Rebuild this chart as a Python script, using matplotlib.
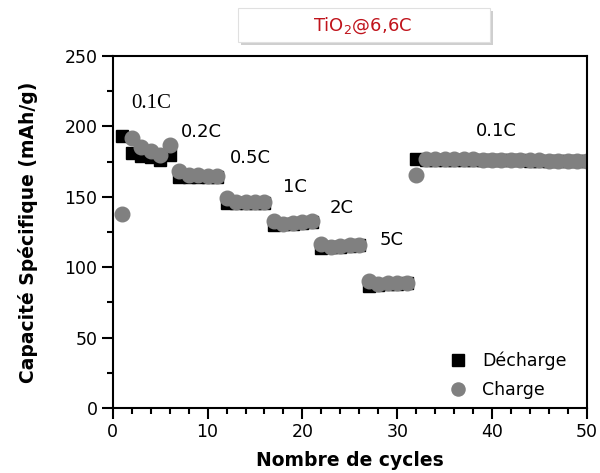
import matplotlib
matplotlib.use("Agg")
import matplotlib.pyplot as plt
from matplotlib.patches import Rectangle
from matplotlib.ticker import MultipleLocator

cycles = list(range(1, 51))
decharge = [193, 181, 179, 178, 176, 180,
            164, 164, 164, 164, 164,
            145.5, 145.5, 145.5, 145.5, 145.5,
            130, 130.5, 131, 131.5, 132,
            113.5, 114, 114.5, 115, 115.5,
            87, 87.5, 88, 88, 88.5,
            176.5, 176, 176, 176, 176, 176, 176, 176, 176, 176,
            176, 176, 175.5, 175.5, 175.5, 175.5, 175.5, 175.5, 175.5]
charge = [138, 192, 185.5, 182.5, 180, 187,
          168, 165.5, 165.5, 165, 165,
          149.5, 146.5, 146.5, 146.5, 146.5,
          133, 131, 131.5, 132, 132.5,
          116.5, 114.5, 115, 115.5, 116,
          90, 88, 88.5, 89, 89,
          165.5, 176.5, 176.5, 176.5, 176.5, 176.5, 176.5, 176, 176, 176,
          176, 176, 176, 176, 175.5, 175.5, 175.5, 175.5, 175.5]

rate_labels = ["0.1C", "0.2C", "0.5C", "1C", "2C", "5C", "0.1C"]
rate_x = [4.1, 9.3, 14.5, 19.2, 24.1, 29.4, 40.5]
rate_y = [216.6, 196, 177.6, 157, 142, 119, 197]

title = "TiO$_2$@6,6C"

fig = plt.figure(figsize=(6, 4.73), dpi=100)
ax = fig.add_axes([0.188, 0.1374, 0.79, 0.7442])

ax.plot(cycles, decharge, linestyle="none", marker="s", markersize=9,
        color="black", label="Décharge")
ax.plot(cycles, charge, linestyle="none", marker="o", markersize=10.5,
        color="#808080", label="Charge")

for i, (lab, x, y) in enumerate(zip(rate_labels, rate_x, rate_y)):
    if i == 0:
        ax.text(x, y, lab, ha="center", va="center", fontsize=15,
                family="Liberation Serif")
    else:
        ax.text(x, y, lab, ha="center", va="center", fontsize=13)

ax.set_xlim(0, 50)
ax.set_ylim(0, 250)
ax.xaxis.set_major_locator(MultipleLocator(10))
ax.xaxis.set_minor_locator(MultipleLocator(2))
ax.yaxis.set_major_locator(MultipleLocator(50))
ax.yaxis.set_minor_locator(MultipleLocator(25))
ax.tick_params(which="major", length=8, width=1.5, labelsize=12.5, pad=3)
ax.tick_params(which="minor", length=4, width=1.5)
for s in ax.spines.values():
    s.set_linewidth(1.5)

ax.set_xlabel("Nombre de cycles", fontsize=13.5, fontweight="bold", labelpad=7)
ax.set_ylabel("Capacité Spécifique (mAh/g)", fontsize=13.5, fontweight="bold", labelpad=19)

ax.legend(loc="lower right", frameon=False, fontsize=12.5,
          bbox_to_anchor=(0.99, -0.02), handletextpad=0.4, labelspacing=0.65,
          markerscale=0.9)

# title box with shadow
fig.patches.append(Rectangle((241 / 600, 1 - 45 / 473), 252 / 600, 34 / 473,
                             transform=fig.transFigure, facecolor="#b0b0b0",
                             edgecolor="none", alpha=0.6, zorder=0))
fig.patches.append(Rectangle((238 / 600, 1 - 42 / 473), 252 / 600, 34 / 473,
                             transform=fig.transFigure, facecolor="white",
                             edgecolor="#e0e0e0", linewidth=0.8, zorder=1))
fig.text(363 / 600, 1 - 26 / 473, title, color="#c0141c", fontsize=13,
         ha="center", va="center", zorder=2)

fig.savefig("out.png", dpi=100)
